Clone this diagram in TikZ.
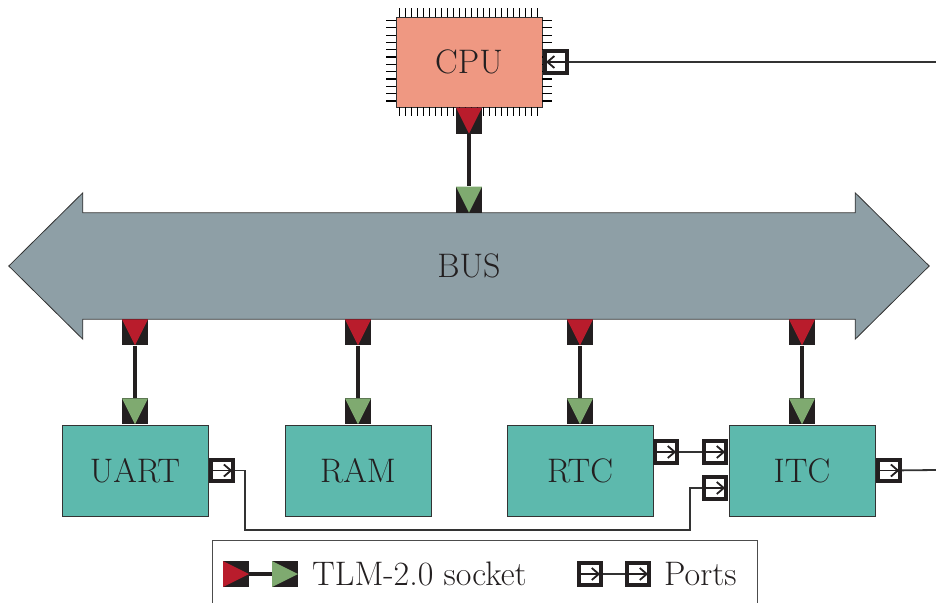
\documentclass[tikz,border=0pt]{standalone}
\usetikzlibrary{positioning,calc}
\definecolor{cpufill}{HTML}{EF9882}
\definecolor{modfill}{HTML}{5DB9AD}
\definecolor{busfill}{HTML}{8E9FA6}
\definecolor{sockred}{HTML}{B91C2C}
\definecolor{sockgreen}{HTML}{7FAA70}
\definecolor{sockblack}{HTML}{231F20}
\newcommand\diagfont{\fontsize{34}{40}\selectfont}

\begin{document}
\begin{tikzpicture}[x=1pt,y=-1pt,font=\diagfont,text=sockblack,
  blk/.style={rectangle,draw=black!80,line width=0.8,minimum width=146,minimum height=91,inner sep=0},
  mod/.style={blk,fill=modfill},
  pin/.style={line width=1.2,black},
  sockd/.style={rectangle,fill=sockblack,inner sep=0,minimum size=26,
    path picture={\fill[#1] (path picture bounding box.north west) -- (path picture bounding box.north east) -- (path picture bounding box.south) -- cycle;}},
  sockr/.style={rectangle,fill=sockblack,inner sep=0,minimum size=26,
    path picture={\fill[#1] (path picture bounding box.north west) -- (path picture bounding box.south west) -- (path picture bounding box.east) -- cycle;}},
  portr/.style={rectangle,draw=sockblack,fill=white,line width=4,inner sep=0,minimum size=21.5,
    path picture={\draw[line width=1.8,sockblack] (path picture bounding box.west) -- (path picture bounding box.east);
      \draw[line width=1.8,sockblack] ([xshift=-9pt,yshift=6pt]path picture bounding box.east) -- ([xshift=-2pt]path picture bounding box.east) -- ([xshift=-9pt,yshift=-6pt]path picture bounding box.east);}},
  portl/.style={rectangle,draw=sockblack,fill=white,line width=4,inner sep=0,minimum size=21.5,
    path picture={\draw[line width=1.8,sockblack] (path picture bounding box.west) -- (path picture bounding box.east);
      \draw[line width=1.8,sockblack] ([xshift=9pt,yshift=6pt]path picture bounding box.west) -- ([xshift=2pt]path picture bounding box.west) -- ([xshift=9pt,yshift=-6pt]path picture bounding box.west);}},
  link/.style={line width=4,sockblack},
  wire/.style={line width=1.8,black!80}]

  \useasboundingbox (0,0) rectangle (936,602);

  % cpu with its pins
  \node[blk,fill=cpufill,minimum height=90] (cpu) at (469,62) {CPU};
  \foreach \i in {0,...,23} {
    \draw[pin] ([xshift=4+6*\i]cpu.north west) -- ++(0,-9);
    \draw[pin] ([xshift=4+6*\i]cpu.south west) -- ++(0,9);
  }
  \foreach \i in {0,...,11} {
    \draw[pin] ([yshift=-4-7.3*\i]cpu.north west) -- ++(-10,0);
    \draw[pin] ([yshift=-4-7.3*\i]cpu.north east) -- ++(10,0);
  }
  \node[sockd=sockred,anchor=north] (cpusock) at (cpu.south) {};
  \node[portl,anchor=west] (cpup) at ([xshift=1pt]cpu.east) {};
  \coordinate (cpuout) at (936,62);

  % bus
  \node[minimum width=772,minimum height=106,inner sep=0] (bus) at (469,266) {};
  \draw[fill=busfill,draw=black!80,line width=0.8] (bus.north west) -- ++(0,-20) -- ([xshift=-74pt]bus.west)
    -- ([yshift=-20pt]bus.south west) -- (bus.south west) -- (bus.south east) -- ([yshift=-20pt]bus.south east)
    -- ([xshift=74pt]bus.east) -- ([yshift=20pt]bus.north east) -- (bus.north east) -- cycle;
  \node (buslabel) at (bus.center) {BUS};
  \node[sockd=sockgreen,anchor=south] (bustop) at (bus.north) {};

  % modules
  \node[mod] (uart) at (135,470.5) {UART};
  \node[mod] (ram) at (358,470.5) {RAM};
  \node[mod] (rtc) at (580,470.5) {RTC};
  \node[mod] (itc) at (802,470.5) {ITC};

  \foreach \m in {uart,ram,rtc,itc} {
    \node[sockd=sockred,anchor=north] (bs-\m) at (bus.south -| \m) {};
    \node[sockd=sockgreen,anchor=south] (ms-\m) at (\m.north) {};
    \draw[link] (bs-\m) -- (ms-\m);
  }
  \draw[link] (cpusock) -- (bustop);

  % ports
  \node[portr,anchor=west] (uartp) at ([xshift=1pt]uart.east) {};
  \node[portr] (rtcp) at (666,452) {};
  \node[portr] (itcin1) at (715,452) {};
  \node[portr] (itcin2) at (715,488) {};
  \node[portr,anchor=west] (itcp) at ([xshift=1pt]itc.east) {};
  \coordinate (itcout) at (936,470);

  \draw[wire] (cpup) -- (cpuout);
  \draw[wire] (itcp) -- (itcout);
  \draw[wire] (rtcp) -- (itcin1);
  \draw[wire] (uartp.east) -| (245,530) -| (690,488) -- (itcin2.west);

  % legend
  \node[draw=black!70,line width=0.8,minimum width=545,minimum height=90,anchor=north west] (legend) at (212,540) {};
  \node[sockr=sockred] (lgs1) at (236,574) {};
  \node[sockr=sockgreen] (lgs2) at (285,574) {};
  \draw[link] (lgs1) -- (lgs2);
  \node[anchor=west,inner sep=0] (lgt1) at (312,574) {TLM-2.0 socket};
  \node[portr] (lgp1) at (590,574) {};
  \node[portr] (lgp2) at (638,574) {};
  \draw[wire] (lgp1) -- (lgp2);
  \node[anchor=west,inner sep=0] (lgt2) at (664,574) {Ports};
\end{tikzpicture}
\end{document}
